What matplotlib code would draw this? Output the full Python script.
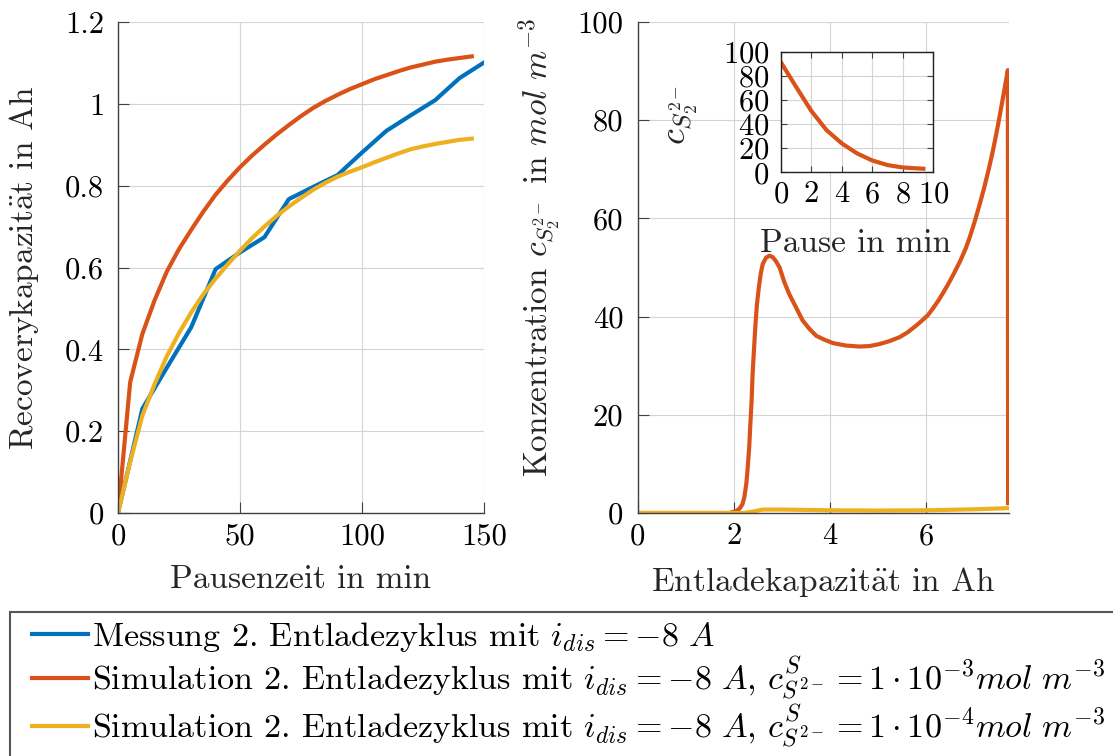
import matplotlib
matplotlib.use("Agg")
import matplotlib.pyplot as plt
import matplotlib.patches as patches
from matplotlib.ticker import FuncFormatter

# --- data ---
pause_meas = [0, 10, 20, 30, 40, 50, 60, 70, 80, 90, 100, 110, 120, 130, 140, 150]
cap_meas = [0, 0.255, 0.355, 0.454, 0.596, 0.637, 0.674, 0.767, 0.797, 0.826,
            0.881, 0.934, 0.972, 1.009, 1.063, 1.101]

pause_sim3 = [0, 5, 10, 15, 20, 25, 30, 35, 40, 45, 50, 55, 60, 65, 70, 75, 80, 85,
              90, 95, 100, 105, 110, 115, 120, 125, 130, 135, 140, 145]
cap_sim3 = [0, 0.32, 0.438, 0.52, 0.59, 0.645, 0.692, 0.737, 0.778, 0.813, 0.845,
            0.874, 0.9, 0.925, 0.948, 0.97, 0.99, 1.007, 1.022, 1.036, 1.048, 1.06,
            1.07, 1.08, 1.089, 1.096, 1.103, 1.108, 1.112, 1.116]

pause_sim4 = [0, 5, 10, 15, 20, 25, 30, 35, 40, 45, 50, 55, 60, 65, 70, 75, 80, 85,
              90, 95, 100, 105, 110, 115, 120, 125, 130, 135, 140, 145]
cap_sim4 = [0, 0.125, 0.238, 0.315, 0.383, 0.44, 0.49, 0.535, 0.573, 0.608, 0.641,
            0.672, 0.70, 0.726, 0.749, 0.77, 0.79, 0.807, 0.822, 0.834, 0.845, 0.857,
            0.868, 0.879, 0.889, 0.896, 0.902, 0.907, 0.912, 0.915]

dis_sim3 = [0, 1.9, 1.98, 2.05, 2.12, 2.18, 2.22, 2.26, 2.29, 2.32, 2.34, 2.37, 2.39,
            2.42, 2.45, 2.48, 2.52, 2.56, 2.60, 2.67, 2.74, 2.81, 2.88, 2.95, 3.05,
            3.15, 3.29, 3.43, 3.57, 3.71, 3.88, 4.06, 4.33, 4.61, 4.82, 5.02, 5.23,
            5.44, 5.61, 5.79, 5.92, 6.03, 6.13, 6.25, 6.35, 6.45, 6.55, 6.7, 6.82,
            6.9, 7.0, 7.1, 7.2, 7.3, 7.38, 7.45, 7.5, 7.55, 7.6, 7.65, 7.69, 7.695]
conc_sim3 = [0, 0, 0.2, 0.4, 0.9, 1.8, 3.3, 6, 9.4, 13.5, 17.5, 23, 28.3, 33.5, 38.5,
             42.5, 46, 48.8, 50.7, 52, 52.4, 52.1, 51.2, 50, 47, 44.6, 41.9, 39.2,
             37.5, 36.1, 35.3, 34.6, 34.1, 33.9, 34.0, 34.4, 35.0, 35.8, 36.8, 38.2,
             39.3, 40.3, 41.6, 43.3, 44.9, 46.6, 48.4, 51.3, 54, 56.2, 59.3, 62.7,
             66.3, 70.3, 73.8, 77.2, 79.8, 82.5, 85.2, 88, 90.2, 2]

dis_sim4 = [0, 2.2, 2.4, 2.6, 3.0, 4.0, 5.0, 6.0, 7.0, 7.72]
conc_sim4 = [0, 0, 0.3, 0.7, 0.7, 0.55, 0.5, 0.55, 0.75, 1.0]

pause_inset = [0, 1, 2, 3, 4, 5, 6, 7, 8, 9, 9.35]
conc_inset = [91.5, 71, 51, 35, 24, 15.7, 9.8, 6, 4, 3.2, 3.0]

legend_labels = [
    r"Messung 2. Entladezyklus mit $i_{dis} = -8\ A$",
    r"Simulation 2. Entladezyklus mit $i_{dis} = -8\ A$, "
    r"$c^{S}_{S^{2-}} = 1\cdot10^{-3}mol\ m^{-3}$",
    r"Simulation 2. Entladezyklus mit $i_{dis} = -8\ A$, "
    r"$c^{S}_{S^{2-}} = 1\cdot10^{-4}mol\ m^{-3}$",
]

BLUE, ORANGE, YELLOW = "#0072BD", "#D95319", "#EDB120"
GRID = "#d4d4d4"
AXC = "#404040"
LABC = "#262626"

plt.rcParams["font.family"] = "serif"
plt.rcParams["font.serif"] = ["cmr10"]
plt.rcParams["mathtext.fontset"] = "cm"
plt.rcParams["axes.formatter.use_mathtext"] = True
plt.rcParams["axes.unicode_minus"] = False
plt.rcParams["font.size"] = 22
plt.rcParams["axes.labelsize"] = 24

W, H = 1113, 756
fig = plt.figure(figsize=(W / 100, H / 100), dpi=100)

ax1 = fig.add_axes([118 / W, 1 - 513 / H, 366 / W, 491 / H])
ax2 = fig.add_axes([637.5 / W, 1 - 513 / H, 371.8 / W, 491 / H])
ax3 = fig.add_axes([780.7 / W, 1 - 172.3 / H, 152.6 / W, 120.6 / H])

fmt = FuncFormatter(lambda v, p: "%g" % v)


def style_main(ax):
    for s in ("top", "right"):
        ax.spines[s].set_visible(False)
    for s in ("left", "bottom"):
        ax.spines[s].set_color(AXC)
        ax.spines[s].set_linewidth(1.0)
    ax.grid(True, color=GRID, linewidth=0.8)
    ax.set_axisbelow(True)
    ax.tick_params(direction="in", length=8, width=0.8, color=AXC, labelsize=22)
    ax.tick_params(axis="y", pad=10)
    ax.tick_params(axis="x", pad=7)
    ax.xaxis.set_major_formatter(fmt)
    ax.yaxis.set_major_formatter(fmt)


# left panel
l1, = ax1.plot(pause_meas, cap_meas, color=BLUE, lw=3)
l2, = ax1.plot(pause_sim3, cap_sim3, color=ORANGE, lw=3)
l3, = ax1.plot(pause_sim4, cap_sim4, color=YELLOW, lw=3)
ax1.set_xlim(0, 150)
ax1.set_ylim(0, 1.2)
ax1.set_xticks([0, 50, 100, 150])
ax1.set_yticks([0, 0.2, 0.4, 0.6, 0.8, 1, 1.2])
style_main(ax1)
ax1.set_xlabel("Pausenzeit in min", color=LABC)
ax1.set_ylabel(r"Recoverykapazit$\ddot{\mathrm{a}}$t in Ah", color=LABC)
ax1.xaxis.set_label_coords(0.5, -0.105)
ax1.yaxis.set_label_coords(-0.21, 0.5)

# right panel
ax2.plot(dis_sim3, conc_sim3, color=ORANGE, lw=3)
ax2.plot(dis_sim4, conc_sim4, color=YELLOW, lw=3)
ax2.set_xlim(0, 7.72)
ax2.set_ylim(0, 100)
ax2.set_xticks([0, 2, 4, 6])
ax2.set_yticks([0, 20, 40, 60, 80, 100])
style_main(ax2)
ax2.set_xlabel(r"Entladekapazit$\ddot{\mathrm{a}}$t in Ah", color=LABC)
ax2.set_ylabel(r"Konzentration $c_{S_2^{2-}}$ in $mol\ m^{-3}$", color=LABC)
ax2.xaxis.set_label_coords(0.5, -0.105)
ax2.yaxis.set_label_coords(-0.2, 0.54)

# inset
ax3.set_facecolor("white")
ax3.plot(pause_inset, conc_inset, color=ORANGE, lw=3)
ax3.set_xlim(0, 10)
ax3.set_ylim(0, 100)
ax3.set_xticks([0, 2, 4, 6, 8, 10])
ax3.set_yticks([0, 20, 40, 60, 80, 100])
ax3.grid(True, color=GRID, linewidth=0.8)
ax3.set_axisbelow(True)
for s in ax3.spines.values():
    s.set_color("#202020")
    s.set_linewidth(1.0)
ax3.tick_params(direction="in", length=4, width=0.8, color=AXC, labelsize=22,
                top=True, right=True)
ax3.tick_params(axis="y", pad=8)
ax3.tick_params(axis="x", pad=6)
ax3.set_xlabel("Pause in min", color=LABC)
ax3.set_ylabel(r"$c_{S_2^{2-}}$", color=LABC, fontsize=26)
ax3.xaxis.set_label_coords(0.49, -0.47)
ax3.yaxis.set_label_coords(-0.53, 0.48)

# legend box (drawn separately so it can run past the figure edge)
fig.patches.append(patches.Rectangle((10 / W, -0.1), 1.2, 1 - 612 / H + 0.1,
                                     transform=fig.transFigure, fill=False,
                                     edgecolor="#555555", linewidth=1.5))
leg = fig.legend(handles=[l1, l2, l3], labels=legend_labels, loc="upper left",
                 bbox_to_anchor=(32 / W, 1 - 620 / H), borderaxespad=0,
                 fontsize=24.5, frameon=False, borderpad=0,
                 handlelength=1.65, handletextpad=0.12, labelspacing=0.02)

fig.savefig("out.png", dpi=100)
